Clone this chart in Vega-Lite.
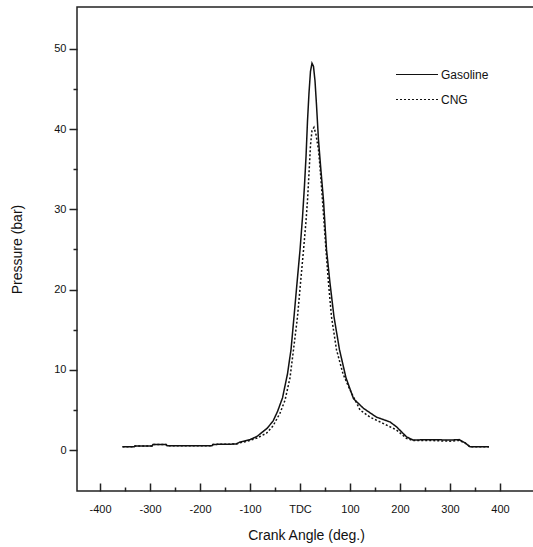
{
  "$schema": "https://vega.github.io/schema/vega-lite/v6.json",
  "autosize": {"type": "none"},
  "padding": {"left": 77, "top": 7, "right": 0, "bottom": 56},
  "width": 458,
  "height": 484,
  "background": "white",
  "config": {
    "view": {"stroke": "#222", "strokeWidth": 1.5},
    "font": "Liberation Sans",
    "axis": {
      "domain": false,
      "grid": false,
      "tickColor": "#222",
      "tickWidth": 1.5,
      "labelColor": "#111",
      "labelFont": "Liberation Sans",
      "labelFontSize": 11,
      "titleFont": "Liberation Sans",
      "titleFontSize": 14,
      "titleFontWeight": "normal",
      "titleColor": "#111"
    }
  },
  "data": {
    "values": [
      {"series": "Gasoline", "angle": -355, "p": 0.4},
      {"series": "Gasoline", "angle": -332, "p": 0.4},
      {"series": "Gasoline", "angle": -330, "p": 0.5},
      {"series": "Gasoline", "angle": -296, "p": 0.5},
      {"series": "Gasoline", "angle": -294, "p": 0.7},
      {"series": "Gasoline", "angle": -268, "p": 0.7},
      {"series": "Gasoline", "angle": -266, "p": 0.55},
      {"series": "Gasoline", "angle": -176, "p": 0.55},
      {"series": "Gasoline", "angle": -174, "p": 0.7},
      {"series": "Gasoline", "angle": -128, "p": 0.75},
      {"series": "Gasoline", "angle": -120, "p": 1.0},
      {"series": "Gasoline", "angle": -100, "p": 1.3},
      {"series": "Gasoline", "angle": -86, "p": 1.7},
      {"series": "Gasoline", "angle": -66, "p": 2.7},
      {"series": "Gasoline", "angle": -54, "p": 3.6},
      {"series": "Gasoline", "angle": -45, "p": 4.8},
      {"series": "Gasoline", "angle": -35, "p": 6.5},
      {"series": "Gasoline", "angle": -25, "p": 9.5},
      {"series": "Gasoline", "angle": -18, "p": 12.5},
      {"series": "Gasoline", "angle": -12, "p": 16.6},
      {"series": "Gasoline", "angle": -6, "p": 20.8},
      {"series": "Gasoline", "angle": 0, "p": 24.9},
      {"series": "Gasoline", "angle": 5, "p": 29},
      {"series": "Gasoline", "angle": 9, "p": 33},
      {"series": "Gasoline", "angle": 12, "p": 36.5},
      {"series": "Gasoline", "angle": 15, "p": 41},
      {"series": "Gasoline", "angle": 18, "p": 44.5},
      {"series": "Gasoline", "angle": 21, "p": 47.2},
      {"series": "Gasoline", "angle": 24, "p": 48.2},
      {"series": "Gasoline", "angle": 27, "p": 47.8},
      {"series": "Gasoline", "angle": 30, "p": 46},
      {"series": "Gasoline", "angle": 33, "p": 43},
      {"series": "Gasoline", "angle": 37, "p": 38.6},
      {"series": "Gasoline", "angle": 41, "p": 35.5},
      {"series": "Gasoline", "angle": 47, "p": 31.1},
      {"series": "Gasoline", "angle": 53, "p": 25},
      {"series": "Gasoline", "angle": 60, "p": 20.8},
      {"series": "Gasoline", "angle": 68, "p": 16.6},
      {"series": "Gasoline", "angle": 79, "p": 12.5},
      {"series": "Gasoline", "angle": 92, "p": 9},
      {"series": "Gasoline", "angle": 107, "p": 6.4},
      {"series": "Gasoline", "angle": 127, "p": 5.2},
      {"series": "Gasoline", "angle": 153, "p": 4.1},
      {"series": "Gasoline", "angle": 180, "p": 3.5},
      {"series": "Gasoline", "angle": 193, "p": 2.9},
      {"series": "Gasoline", "angle": 213, "p": 1.65},
      {"series": "Gasoline", "angle": 226, "p": 1.25},
      {"series": "Gasoline", "angle": 260, "p": 1.3},
      {"series": "Gasoline", "angle": 300, "p": 1.25},
      {"series": "Gasoline", "angle": 318, "p": 1.3},
      {"series": "Gasoline", "angle": 330, "p": 0.9},
      {"series": "Gasoline", "angle": 340, "p": 0.4},
      {"series": "Gasoline", "angle": 378, "p": 0.4},
      {"series": "CNG", "angle": -355, "p": 0.4},
      {"series": "CNG", "angle": -332, "p": 0.4},
      {"series": "CNG", "angle": -330, "p": 0.5},
      {"series": "CNG", "angle": -296, "p": 0.5},
      {"series": "CNG", "angle": -294, "p": 0.7},
      {"series": "CNG", "angle": -268, "p": 0.7},
      {"series": "CNG", "angle": -266, "p": 0.55},
      {"series": "CNG", "angle": -176, "p": 0.55},
      {"series": "CNG", "angle": -174, "p": 0.7},
      {"series": "CNG", "angle": -128, "p": 0.75},
      {"series": "CNG", "angle": -120, "p": 0.9},
      {"series": "CNG", "angle": -100, "p": 1.2},
      {"series": "CNG", "angle": -86, "p": 1.5},
      {"series": "CNG", "angle": -67, "p": 2.1},
      {"series": "CNG", "angle": -54, "p": 3.0},
      {"series": "CNG", "angle": -40, "p": 4.6},
      {"series": "CNG", "angle": -30, "p": 6.2},
      {"series": "CNG", "angle": -20, "p": 9},
      {"series": "CNG", "angle": -13, "p": 12.5},
      {"series": "CNG", "angle": -5, "p": 16.6},
      {"series": "CNG", "angle": 1, "p": 20.8},
      {"series": "CNG", "angle": 7, "p": 24.9},
      {"series": "CNG", "angle": 12, "p": 28.5},
      {"series": "CNG", "angle": 15, "p": 31.1},
      {"series": "CNG", "angle": 18, "p": 34.5},
      {"series": "CNG", "angle": 21, "p": 38},
      {"series": "CNG", "angle": 24, "p": 39.8},
      {"series": "CNG", "angle": 28, "p": 40.2},
      {"series": "CNG", "angle": 32, "p": 39.3},
      {"series": "CNG", "angle": 37, "p": 37.4},
      {"series": "CNG", "angle": 40, "p": 35.3},
      {"series": "CNG", "angle": 45, "p": 31.1},
      {"series": "CNG", "angle": 52, "p": 24.9},
      {"series": "CNG", "angle": 57, "p": 20.8},
      {"series": "CNG", "angle": 63, "p": 16.6},
      {"series": "CNG", "angle": 73, "p": 12.5},
      {"series": "CNG", "angle": 86, "p": 9.5},
      {"series": "CNG", "angle": 100, "p": 7.5},
      {"series": "CNG", "angle": 120, "p": 5.0},
      {"series": "CNG", "angle": 140, "p": 4.1},
      {"series": "CNG", "angle": 167, "p": 3.3},
      {"series": "CNG", "angle": 193, "p": 2.5},
      {"series": "CNG", "angle": 213, "p": 1.45},
      {"series": "CNG", "angle": 226, "p": 1.2},
      {"series": "CNG", "angle": 260, "p": 1.2},
      {"series": "CNG", "angle": 300, "p": 1.1},
      {"series": "CNG", "angle": 318, "p": 1.2},
      {"series": "CNG", "angle": 330, "p": 0.9},
      {"series": "CNG", "angle": 340, "p": 0.4},
      {"series": "CNG", "angle": 378, "p": 0.4}
    ]
  },
  "mark": {"type": "line", "color": "#111", "strokeWidth": 1.5, "clip": true},
  "encoding": {
    "x": {
      "field": "angle",
      "type": "quantitative",
      "scale": {"domain": [-446, 470], "nice": false, "zero": false},
      "axis": {
        "title": "Crank Angle (deg.)",
        "values": [-400, -350, -300, -250, -200, -150, -100, -50, 0, 50, 100, 150, 200, 250, 300, 350, 400],
        "tickSize": {"condition": {"test": "datum.value % 100 !== 0", "value": -4}, "value": -8},
        "labelExpr": "datum.value === 0 ? 'TDC' : (datum.value % 100 === 0 ? '' + datum.value : '')",
        "labelPadding": 20,
        "titlePadding": 10,
        "labelFlush": false,
        "labelOverlap": false
      }
    },
    "y": {
      "field": "p",
      "type": "quantitative",
      "scale": {"domain": [-5.1, 55.2], "nice": false, "zero": false},
      "axis": {
        "title": "Pressure (bar)",
        "values": [0, 5, 10, 15, 20, 25, 30, 35, 40, 45, 50],
        "tickSize": {"condition": {"test": "datum.value % 10 !== 0", "value": 4}, "value": 8},
        "labelExpr": "datum.value % 10 === 0 ? datum.label : ''",
        "labelPadding": 3,
        "titlePadding": 29,
        "labelFlush": false,
        "labelOverlap": false
      }
    },
    "strokeDash": {
      "field": "series",
      "type": "nominal",
      "scale": {"domain": ["Gasoline", "CNG"], "range": [[1, 0], [2, 2]]},
      "legend": {
        "title": null,
        "orient": "none",
        "legendX": 318,
        "legendY": 56,
        "symbolType": "stroke",
        "symbolSize": 1764,
        "symbolStrokeWidth": 1.2,
        "symbolStrokeColor": "#111",
        "labelFontSize": 12,
        "labelColor": "#111",
        "labelOffset": 2,
        "clipHeight": 23,
        "rowPadding": 2
      }
    }
  }
}
